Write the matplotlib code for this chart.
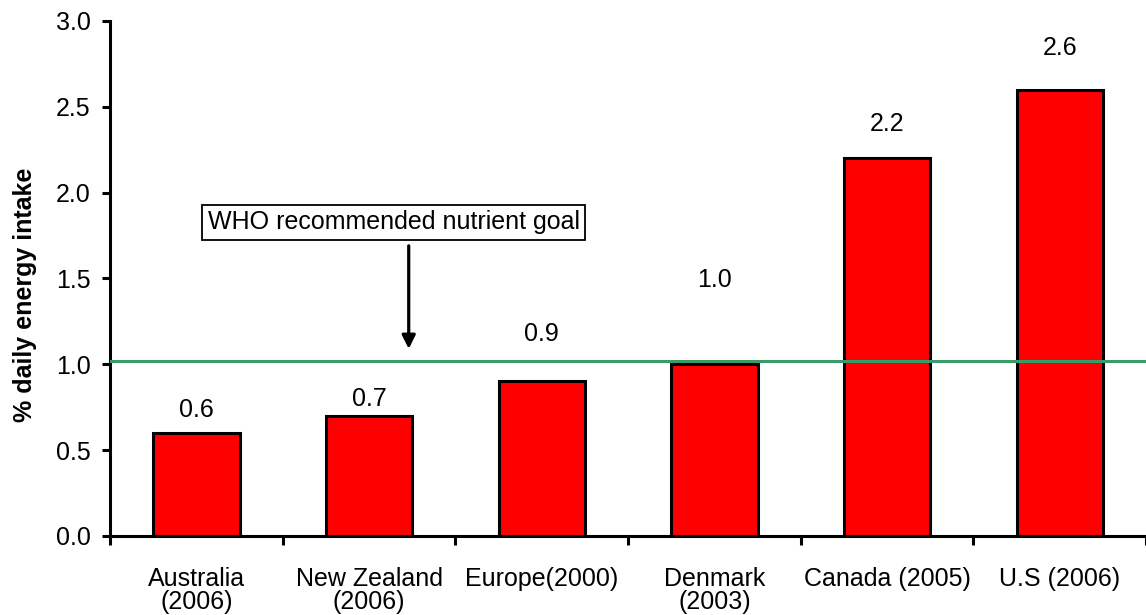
import numpy as np
import matplotlib.pyplot as plt

plt.rcParams['font.family'] = ['Liberation Sans', 'DejaVu Sans']

countries = ['Australia\n(2006)', 'New Zealand\n(2006)', 'Europe(2000)',
             'Denmark\n(2003)', 'Canada (2005)', 'U.S (2006)']
intake = [0.6, 0.7, 0.9, 1.0, 2.2, 2.6]
label_y = [0.735, 0.80, 1.175, 1.49, 2.40, 2.84]   # where the value labels sit
who_goal = 1.02

fs = 18

fig = plt.figure(figsize=(11.46, 6.15), dpi=100)
ax = fig.add_axes([0.096, 0.1285, 0.904, 0.8375])

x = np.arange(len(countries))
ax.bar(x, intake, width=0.5, color='#ff0000', edgecolor='black', linewidth=2.2, zorder=2)
ax.axhline(who_goal, color='#3a9a6a', linewidth=2.2, zorder=3)

for xi, v, ly in zip(x, intake, label_y):
    ax.text(xi, ly, f'{v:.1f}', ha='center', va='center', fontsize=fs)

# note box + arrow pointing down at the goal line
ax.text(0.065, 1.826, 'WHO recommended nutrient goal', ha='left', va='center',
        fontsize=fs,
        bbox=dict(boxstyle='square,pad=0.22', facecolor='white', edgecolor='black', linewidth=1.3))
ax.annotate('', xy=(1.23, 1.09), xytext=(1.23, 1.69),
            arrowprops=dict(arrowstyle='-|>,head_length=0.8,head_width=0.4',
                            color='black', linewidth=2.3, shrinkA=0, shrinkB=0))

ax.set_xlim(-0.5, len(countries) - 0.5)
ax.set_ylim(0, 3.0)
ax.set_yticks(np.arange(0, 3.01, 0.5))
ax.set_yticklabels([f'{t:.1f}' for t in np.arange(0, 3.01, 0.5)])

ax.set_xticks(x)
ax.set_xticklabels(countries, fontsize=fs, linespacing=0.95)
ax.set_xticks(np.arange(-0.5, len(countries)), minor=True)
ax.tick_params(axis='x', which='major', length=0, pad=22)
ax.tick_params(axis='x', which='minor', length=6.5, width=2.2, direction='out')
ax.tick_params(axis='y', length=6, width=2.2, pad=8, labelsize=fs)

for s in ['top', 'right']:
    ax.spines[s].set_visible(False)
for s in ['left', 'bottom']:
    ax.spines[s].set_linewidth(2.2)

ax.set_ylabel('% daily energy intake', fontsize=fs, fontweight='bold')
ax.yaxis.set_label_coords(-0.07, 0.468)

fig.savefig('out.png', dpi=100)
